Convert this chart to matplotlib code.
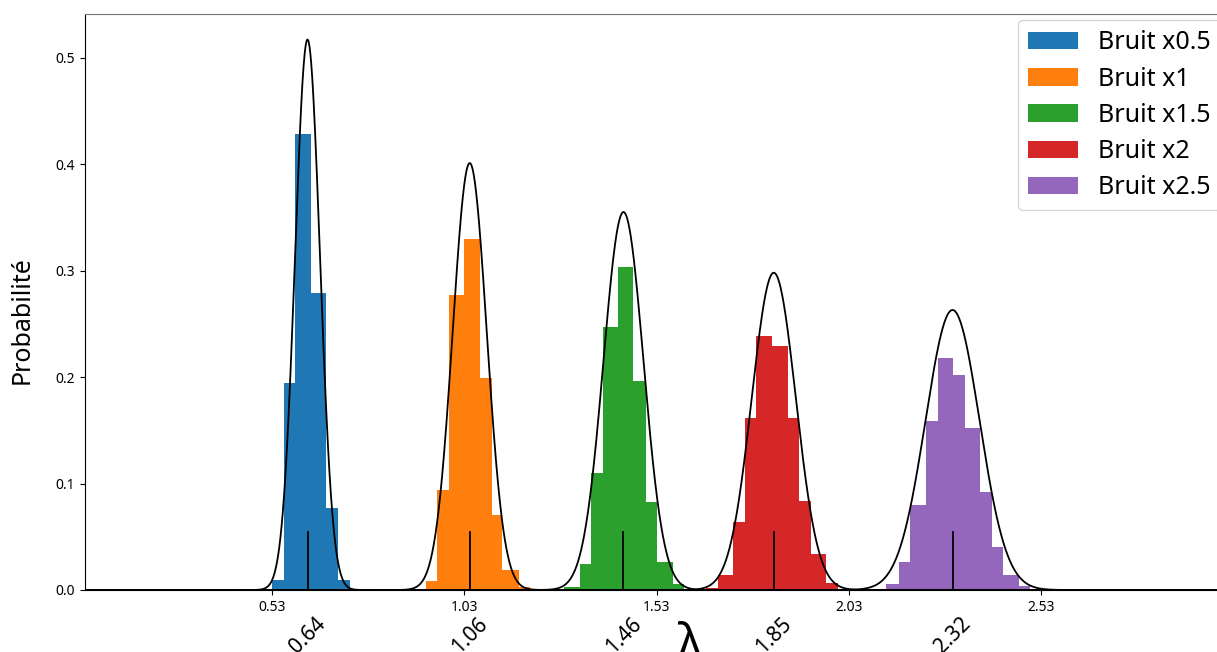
# histogramme der geschaetzten lambda-werte fuer verschiedene rauschstaerken
import numpy as np
import matplotlib
matplotlib.use("Agg")
import matplotlib.pyplot as plt

plt.rcParams['font.family'] = ['Noto Sans', 'DejaVu Sans']

# ---------------------------------------------------------------------------------------------------------------
# DATEN

labels = ["Bruit x0.5", "Bruit x1", "Bruit x1.5", "Bruit x2", "Bruit x2.5"]
farben = ["#1f77b4", "#ff7f0e", "#2ca02c", "#d62728", "#9467bd"]

# bin-kanten und wahrscheinlichkeiten pro bin
kanten05 = [0.529, 0.560, 0.589, 0.631, 0.670, 0.701, 0.732]
werte05 = [0.009, 0.194, 0.428, 0.279, 0.077, 0.009]

kanten1 = [0.930, 0.958, 0.990, 1.029, 1.070, 1.101, 1.129, 1.172, 1.200]
werte1 = [0.008, 0.094, 0.277, 0.330, 0.199, 0.070, 0.019, 0.003]

kanten15 = [1.289, 1.331, 1.359, 1.390, 1.429, 1.469, 1.502, 1.530, 1.572, 1.601]
werte15 = [0.003, 0.024, 0.110, 0.247, 0.303, 0.196, 0.083, 0.026, 0.006]

kanten2 = [1.658, 1.690, 1.729, 1.760, 1.788, 1.830, 1.872, 1.900, 1.931, 1.970, 2.002]
werte2 = [0.002, 0.014, 0.064, 0.162, 0.239, 0.229, 0.162, 0.084, 0.034, 0.007]

kanten25 = [2.128, 2.161, 2.190, 2.231, 2.261, 2.301, 2.332, 2.371, 2.402, 2.431, 2.472, 2.501]
werte25 = [0.006, 0.026, 0.080, 0.159, 0.218, 0.202, 0.152, 0.092, 0.040, 0.014, 0.004]

# mittelwerte (position der kurzen striche), beschriftung darunter
mittelwerte = [0.622, 1.044, 1.444, 1.835, 2.300]
mittelLabels = ["0.64", "1.06", "1.46", "1.85", "2.32"]

# parameter der normalverteilungskurven (hoehe, standardabweichung)
hoehen = [0.517, 0.401, 0.355, 0.298, 0.263]
sigmas = [0.0325, 0.0442, 0.052, 0.0572, 0.0702]

# kleine ticks auf der x-achse
xticks = [0.53, 1.03, 1.53, 2.03, 2.53]

alleKanten = [kanten05, kanten1, kanten15, kanten2, kanten25]
alleWerte = [werte05, werte1, werte15, werte2, werte25]

# ---------------------------------------------------------------------------------------------------------------
# PLOT

fig = plt.figure(figsize=(12.17, 6.52), dpi=100)
# achse ragt rechts leicht ueber das bild hinaus (wie im original)
ax = fig.add_axes([0.0698, 0.0951, 0.9384, 0.8834])

xmin, xmax = 0.043, 3.014
xs = np.linspace(xmin, xmax, 3000)

for i in range(0, len(labels)):
    k = np.array(alleKanten[i])
    ax.bar(k[:-1], alleWerte[i], width=np.diff(k), align='edge',
           color=farben[i], label=labels[i], linewidth=0)

for i in range(0, len(labels)):
    kurve = hoehen[i] * np.exp(-0.5 * ((xs - mittelwerte[i]) / sigmas[i]) ** 2)
    ax.plot(xs, kurve, color='k', linewidth=1.3)
    ax.axvline(mittelwerte[i], ymin=0, ymax=0.1, color='k', linewidth=1.3)

ax.set_xlim(xmin, xmax)
ax.set_ylim(0, 0.541)

ax.set_xticks(xticks)
ax.set_xticklabels(["%.2f" % t for t in xticks], fontsize=10)
ax.set_xticks(mittelwerte, minor=True)
ax.set_xticklabels(mittelLabels, minor=True, rotation=45, fontsize=15)
ax.tick_params(axis='x', which='minor', length=0, pad=17)
ax.tick_params(axis='y', labelsize=10)

ax.spines['top'].set_color('0.45')

ax.set_ylabel("Probabilité", fontsize=18, labelpad=15, y=0.469)
ax.set_xlabel("λ", fontsize=34)
ax.xaxis.set_label_coords(0.53, -0.054)

ax.legend(loc='upper right', fontsize=18, labelspacing=0.45, borderaxespad=0.25)

plt.savefig("out.png", dpi=100)
